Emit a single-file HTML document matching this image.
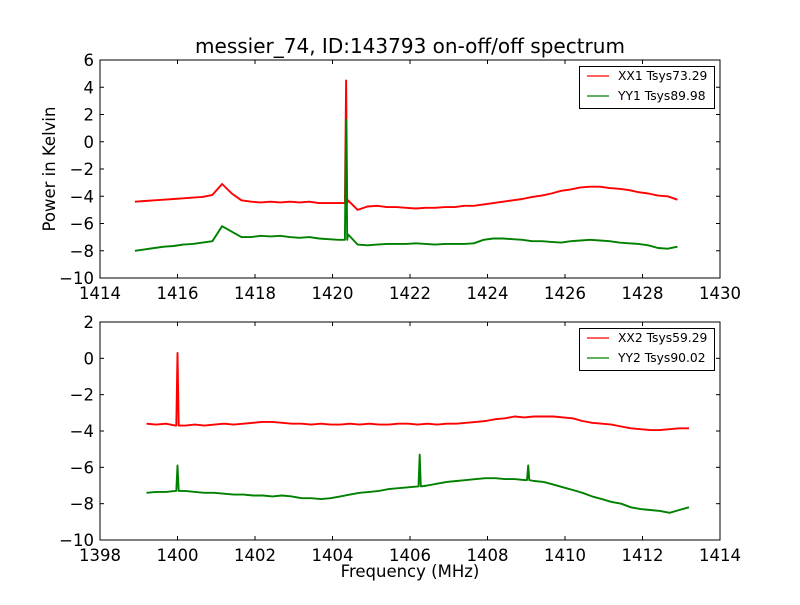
<!DOCTYPE html>
<html><head><meta charset="utf-8"><style>
body{margin:0;background:#fff}
svg text{font-family:"DejaVu Sans","Liberation Sans",sans-serif;fill:#000}
</style></head><body>
<svg id="c" width="800" height="600" xmlns="http://www.w3.org/2000/svg">
<rect width="800" height="600" fill="#fff"/>
</svg>
<script>
// Top panel data
const topStart = 1414.9, topStep = 0.25;
const xx1Vals = [-4.4,-4.35,-4.3,-4.25,-4.2,-4.15,-4.1,-4.05,-3.9,-3.1,
 -3.8,-4.3,-4.4,-4.45,-4.4,-4.45,-4.4,-4.45,-4.4,-4.5,
 -4.5,-4.5,-4.3,-5.0,-4.75,-4.7,-4.8,-4.8,-4.85,-4.9,
 -4.85,-4.85,-4.8,-4.8,-4.7,-4.7,-4.6,-4.5,-4.4,-4.3,
 -4.2,-4.05,-3.95,-3.8,-3.6,-3.5,-3.35,-3.3,-3.3,-3.4,
 -3.45,-3.55,-3.7,-3.8,-3.95,-4.0,-4.25];
const yy1Vals = [-8.0,-7.9,-7.8,-7.7,-7.65,-7.55,-7.5,-7.4,-7.3,-6.2,
 -6.6,-7.0,-7.0,-6.9,-6.95,-6.9,-7.0,-7.05,-7.0,-7.1,
 -7.15,-7.2,-6.8,-7.55,-7.6,-7.55,-7.5,-7.5,-7.5,-7.45,
 -7.5,-7.55,-7.5,-7.5,-7.5,-7.45,-7.2,-7.1,-7.1,-7.15,
 -7.2,-7.3,-7.3,-7.35,-7.4,-7.3,-7.25,-7.2,-7.25,-7.3,
 -7.4,-7.45,-7.5,-7.6,-7.8,-7.85,-7.7];
const xx1SpikeF = [1420.35], xx1SpikeV = [4.5];
const yy1SpikeF = [1420.35], yy1SpikeV = [1.6];
// Bottom panel data
const botStart = 1399.2, botStep = 0.25;
const xx2Vals = [-3.6,-3.65,-3.6,-3.7,-3.7,-3.65,-3.7,-3.65,-3.6,-3.65,
 -3.6,-3.55,-3.5,-3.5,-3.55,-3.6,-3.6,-3.65,-3.6,-3.65,
 -3.65,-3.6,-3.65,-3.6,-3.65,-3.65,-3.6,-3.6,-3.65,-3.6,
 -3.65,-3.6,-3.6,-3.55,-3.5,-3.45,-3.35,-3.3,-3.2,-3.25,
 -3.2,-3.2,-3.2,-3.25,-3.3,-3.45,-3.55,-3.6,-3.65,-3.75,
 -3.85,-3.9,-3.95,-3.95,-3.9,-3.85,-3.85];
const yy2Vals = [-7.4,-7.35,-7.35,-7.3,-7.3,-7.35,-7.4,-7.4,-7.45,-7.5,
 -7.5,-7.55,-7.55,-7.6,-7.55,-7.6,-7.7,-7.7,-7.75,-7.7,
 -7.6,-7.5,-7.4,-7.35,-7.3,-7.2,-7.15,-7.1,-7.05,-7.0,
 -6.9,-6.8,-6.75,-6.7,-6.65,-6.6,-6.6,-6.65,-6.65,-6.7,
 -6.75,-6.8,-6.95,-7.1,-7.25,-7.4,-7.6,-7.75,-7.9,-8.0,
 -8.2,-8.3,-8.35,-8.4,-8.5,-8.35,-8.2];
const xx2SpikeF = [1400.0], xx2SpikeV = [0.3];
const yy2SpikeF = [1400.0, 1406.25, 1409.05], yy2SpikeV = [-5.9, -5.3, -5.9];
const topXTicks = [1414,1416,1418,1420,1422,1424,1426,1428,1430];
const topYTicks = [6,4,2,0,-2,-4,-6,-8,-10];
const botXTicks = [1398,1400,1402,1404,1406,1408,1410,1412,1414];
const botYTicks = [2,0,-2,-4,-6,-8,-10];

const NS = "http://www.w3.org/2000/svg";
const svg = document.getElementById('c');
function mk(tag, attrs, parent){const e=document.createElementNS(NS,tag);for(const k in attrs)e.setAttribute(k,attrs[k]);(parent||svg).appendChild(e);return e;}
function lab(s){return s<0?'\u2212'+Math.abs(s):String(s);}

function panel(name, L,R,T,B, x0,x1,y0,y1, xt,yt, series, legend){
  const g = mk('g',{});
  
  
  const sx = v => L + (v-x0)/(x1-x0)*(R-L);
  const sy = v => B - (v-y0)/(y1-y0)*(B-T);
  series.forEach(s=>{
    let pts = s.vals.map((v,i)=>[s.start+i*s.step, v]);
    s.sf.forEach((f,k)=>{
      let j = pts.findIndex(p=>p[0]>f);
      const base = pts[j-1][1];
      pts.splice(j,0,[f-0.03,base],[f,s.sv[k]],[f+0.03,base]);
    });
    const pl = mk('polyline',{points:pts.map(p=>sx(p[0]).toFixed(1)+','+sy(p[1]).toFixed(1)).join(' '),fill:'none',stroke:s.color,'stroke-width':1.9,'stroke-linejoin':'round'},g);
    
    
  });
  mk('rect',{x:L,y:T,width:R-L,height:B-T,fill:'none',stroke:'#000','stroke-width':1},g);
  xt.forEach(v=>{
    const x=sx(v);
    mk('line',{x1:x,x2:x,y1:B,y2:B-4,stroke:'#000'},g);
    mk('line',{x1:x,x2:x,y1:T,y2:T+4,stroke:'#000'},g);
    const t=mk('text',{x:x,y:B+21,'text-anchor':'middle','font-size':16.5},g);t.textContent=lab(v);
    
    
  });
  yt.forEach(v=>{
    const y=sy(v);
    mk('line',{x1:L,x2:L+4,y1:y,y2:y,stroke:'#000'},g);
    mk('line',{x1:R,x2:R-4,y1:y,y2:y,stroke:'#000'},g);
    const t=mk('text',{x:L-6,y:y+6,'text-anchor':'end','font-size':16.5},g);t.textContent=lab(v);
    
    
  });
  const lg = mk('g',{},g);
  
  
  mk('rect',{x:579.5,y:legend.y+0.5,width:135,height:42,fill:'#fff',stroke:'#000'},lg);
  legend.items.forEach((it,i)=>{
    const y=legend.y+10+i*20;
    mk('line',{x1:587,x2:609,y1:y,y2:y,stroke:it.color,'stroke-width':1.2},lg);
    const t=mk('text',{x:618,y:y+4,'font-size':12.3},lg);t.textContent=it.label;
    
    
  });
}

panel('top-panel',100,720,60,278,1414,1430,-10,6,topXTicks,topYTicks,[
 {name:'xx1-line',color:'#ff0000',start:topStart,step:topStep,vals:xx1Vals,sf:xx1SpikeF,sv:xx1SpikeV},
 {name:'yy1-line',color:'#008000',start:topStart,step:topStep,vals:yy1Vals,sf:yy1SpikeF,sv:yy1SpikeV}],
 {y:66,items:[{color:'#ff0000',label:'XX1 Tsys73.29'},{color:'#008000',label:'YY1 Tsys89.98'}]});
panel('bottom-panel',100,720,322,540,1398,1414,-10,2,botXTicks,botYTicks,[
 {name:'xx2-line',color:'#ff0000',start:botStart,step:botStep,vals:xx2Vals,sf:xx2SpikeF,sv:xx2SpikeV},
 {name:'yy2-line',color:'#008000',start:botStart,step:botStep,vals:yy2Vals,sf:yy2SpikeF,sv:yy2SpikeV}],
 {y:328,items:[{color:'#ff0000',label:'XX2 Tsys59.29'},{color:'#008000',label:'YY2 Tsys90.02'}]});

let t=mk('text',{x:410,y:53,'text-anchor':'middle','font-size':20});t.textContent='messier_74, ID:143793 on-off/off spectrum';


t=mk('text',{x:410,y:577,'text-anchor':'middle','font-size':16.5});t.textContent='Frequency (MHz)';


t=mk('text',{x:0,y:0,'text-anchor':'middle','font-size':16.5,transform:'translate(55,169) rotate(-90)'});t.textContent='Power in Kelvin';


</script>
</body></html>
